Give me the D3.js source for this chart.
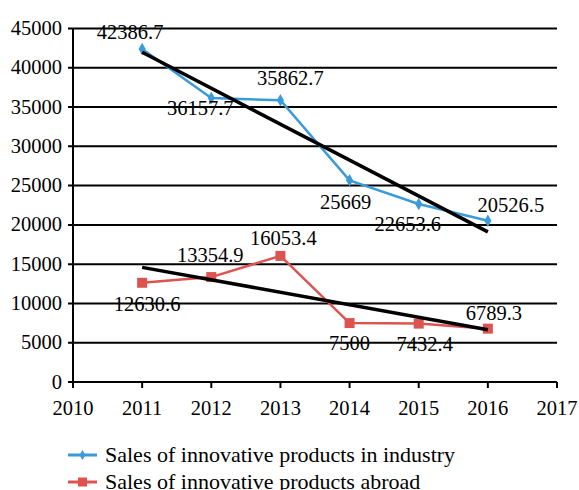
<!DOCTYPE html>
<html>
<head>
<meta charset="utf-8">
<script src="https://cdn.jsdelivr.net/npm/d3@7"></script>
<style>
  body { margin: 0; background: #fff; }
</style>
</head>
<body>
<div id="chart"></div>
<script>
var years = [2011, 2012, 2013, 2014, 2015, 2016];
var industry = [42386.7, 36157.7, 35862.7, 25669, 22653.6, 20526.5];
var abroad = [12630.6, 13354.9, 16053.4, 7500, 7432.4, 6789.3];
// trend lines, endpoints (2011 and 2016)
var trendYears = [2011, 2016];
var industryTrend = [41970, 19110];
var abroadTrend = [14590, 6660];
var yTicks = [0, 5000, 10000, 15000, 20000, 25000, 30000, 35000, 40000, 45000];
var xTicks = [2010, 2011, 2012, 2013, 2014, 2015, 2016, 2017];
var legendNames = ["Sales of innovative products in industry", "Sales of innovative products abroad"];

// label offsets [dx, dy] relative to the point (dy to baseline)
var industryLabelOff = [[-12, -10], [-11, 17], [10, -15], [-4, 29], [-11, 27], [23, -9]];
var abroadLabelOff = [[5, 28], [-1, -15], [3, -11], [0, 27], [6, 27], [6, -9]];

var BLUE = "#3b9ad8";
var RED = "#dc534f";
var FONT = "Liberation Serif";
var FS = 20.5;
var W = 579, H = 490;

var svg = d3.select("#chart").append("svg").attr("width", W).attr("height", H);

var x = d3.scaleLinear().domain([2010, 2017]).range([73, 557]);
var y = d3.scaleLinear().domain([0, 45000]).range([382, 28.5]);

// horizontal grid
svg.selectAll("line.grid").data(yTicks).enter().append("line")
  .attr("x1", 68).attr("x2", 557)
  .attr("y1", function(d) { return y(d); }).attr("y2", function(d) { return y(d); })
  .attr("stroke", "#000").attr("stroke-width", 2);

// y axis line
svg.append("line").attr("x1", x(2010)).attr("x2", x(2010))
  .attr("y1", y(45000)).attr("y2", y(0) + 5)
  .attr("stroke", "#000").attr("stroke-width", 2);

// x ticks
svg.selectAll("line.xt").data(xTicks).enter().append("line")
  .attr("x1", function(d) { return x(d); }).attr("x2", function(d) { return x(d); })
  .attr("y1", y(0)).attr("y2", y(0) + 6)
  .attr("stroke", "#000").attr("stroke-width", 2);

svg.selectAll("text.yl").data(yTicks).enter().append("text")
  .style("font-family", FONT)
  .attr("x", 62).attr("y", function(d) { return y(d) + 6.5; })
  .attr("text-anchor", "end").attr("font-size", FS)
  .text(function(d) { return d; });

svg.selectAll("text.xl").data(xTicks).enter().append("text")
  .style("font-family", FONT)
  .attr("x", function(d) { return x(d); }).attr("y", 415)
  .attr("text-anchor", "middle").attr("font-size", FS)
  .text(function(d) { return d; });

var line = d3.line()
  .x(function(d) { return x(d[0]); })
  .y(function(d) { return y(d[1]); });

function pairs(xs, ys) { return xs.map(function(v, i) { return [v, ys[i]]; }); }

// red series
svg.append("path").datum(pairs(years, abroad)).attr("d", line)
  .attr("fill", "none").attr("stroke", RED).attr("stroke-width", 2.5);
svg.selectAll("rect.rm").data(pairs(years, abroad)).enter().append("rect")
  .attr("x", function(d) { return x(d[0]) - 5; }).attr("y", function(d) { return y(d[1]) - 5; })
  .attr("width", 10).attr("height", 10).attr("fill", RED);

// blue series
svg.append("path").datum(pairs(years, industry)).attr("d", line)
  .attr("fill", "none").attr("stroke", BLUE).attr("stroke-width", 2.5);
svg.selectAll("path.bm").data(pairs(years, industry)).enter().append("path")
  .attr("d", d3.symbol().type(d3.symbolDiamond).size(45))
  .attr("transform", function(d) { return "translate(" + x(d[0]) + "," + y(d[1]) + ")"; })
  .attr("fill", BLUE);

// trend lines
svg.append("path").datum(pairs(trendYears, industryTrend)).attr("d", line)
  .attr("fill", "none").attr("stroke", "#000").attr("stroke-width", 3.5);
svg.append("path").datum(pairs(trendYears, abroadTrend)).attr("d", line)
  .attr("fill", "none").attr("stroke", "#000").attr("stroke-width", 3.5);

// data labels
function labels(vals, offs) {
  svg.selectAll(null).data(vals).enter().append("text")
    .style("font-family", FONT)
    .attr("x", function(d, i) { return x(years[i]) + offs[i][0]; })
    .attr("y", function(d, i) { return y(d) + offs[i][1]; })
    .attr("text-anchor", "middle").attr("font-size", FS)
    .text(function(d) { return d; });
}
labels(industry, industryLabelOff);
labels(abroad, abroadLabelOff);

// legend
var lg = svg.selectAll("g.lg").data(legendNames).enter().append("g")
  .attr("transform", function(d, i) { return "translate(68," + (455 + i * 27) + ")"; });
lg.append("line").attr("x1", 0).attr("x2", 29).attr("y1", 0).attr("y2", 0)
  .attr("stroke", function(d, i) { return i ? RED : BLUE; }).attr("stroke-width", 3);
lg.filter(function(d, i) { return i == 0; }).append("path")
  .attr("d", d3.symbol().type(d3.symbolDiamond).size(30))
  .attr("transform", "translate(14.5,0)").attr("fill", BLUE);
lg.filter(function(d, i) { return i == 1; }).append("rect")
  .attr("x", 10).attr("y", -4.5).attr("width", 9).attr("height", 9).attr("fill", RED);
lg.append("text").style("font-family", FONT).attr("x", 37).attr("y", 7).attr("font-size", 22)
  .text(function(d) { return d; });
</script>
</body>
</html>
